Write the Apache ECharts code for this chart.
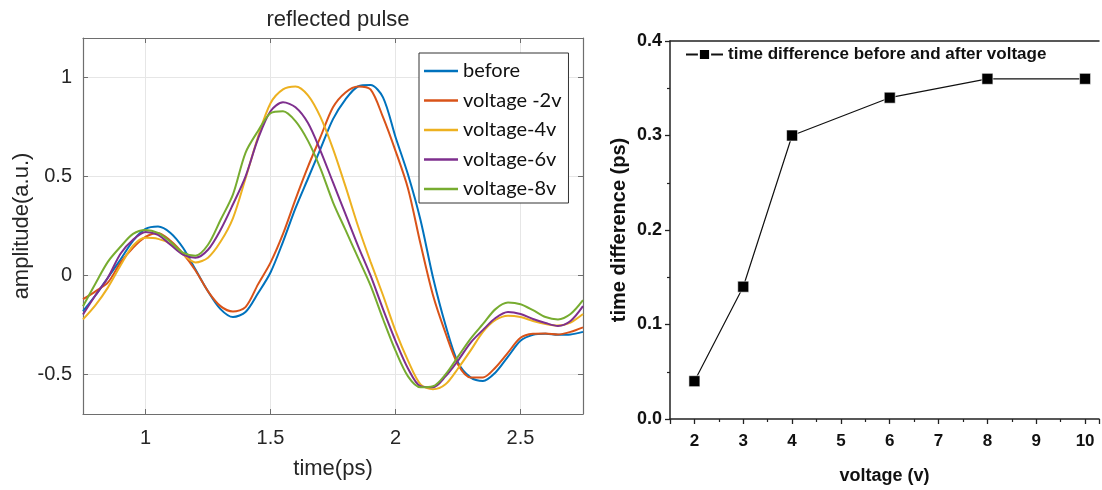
<!DOCTYPE html>
<html><head><meta charset="utf-8">
<script src="https://cdn.jsdelivr.net/npm/echarts@6/dist/echarts.min.js"></script>
<style>html,body{margin:0;padding:0;background:#fff}#c{width:1102px;height:490px}</style>
</head><body><div id="c"></div>
<script>
// ---- left panel: reflected pulse ----
const time = [0.75,0.80,0.85,0.90,0.95,1.00,1.05,1.10,1.15,1.20,1.25,1.30,1.35,1.40,1.45,1.50,1.55,1.60,1.65,1.70,1.75,1.80,1.85,1.90,1.95,2.00,2.05,2.10,2.15,2.20,2.25,2.30,2.35,2.40,2.45,2.50,2.55,2.60,2.65,2.70,2.75];
const before = [-0.18,-0.10,-0.01,0.08,0.175,0.235,0.247,0.215,0.14,0.03,-0.08,-0.17,-0.21,-0.185,-0.09,0.015,0.17,0.34,0.49,0.64,0.79,0.89,0.955,0.962,0.90,0.70,0.51,0.28,-0.01,-0.25,-0.44,-0.515,-0.533,-0.49,-0.41,-0.33,-0.30,-0.295,-0.30,-0.298,-0.285];
const volt2 = [-0.12,-0.08,-0.035,0.065,0.14,0.195,0.215,0.175,0.11,0.025,-0.08,-0.155,-0.182,-0.16,-0.045,0.065,0.21,0.385,0.55,0.70,0.85,0.925,0.955,0.94,0.80,0.63,0.44,0.16,-0.10,-0.29,-0.45,-0.515,-0.515,-0.465,-0.39,-0.315,-0.295,-0.293,-0.298,-0.285,-0.262];
const volt4 = [-0.222,-0.15,-0.06,0.05,0.15,0.19,0.185,0.16,0.106,0.066,0.09,0.17,0.29,0.49,0.70,0.87,0.94,0.955,0.91,0.80,0.64,0.45,0.25,0.07,-0.10,-0.28,-0.43,-0.55,-0.575,-0.55,-0.47,-0.38,-0.285,-0.225,-0.203,-0.21,-0.23,-0.245,-0.253,-0.238,-0.195];
const volt6 = [-0.197,-0.10,-0.01,0.11,0.18,0.22,0.205,0.155,0.105,0.09,0.13,0.23,0.36,0.50,0.69,0.83,0.875,0.85,0.77,0.63,0.47,0.31,0.15,0.0,-0.17,-0.33,-0.47,-0.56,-0.565,-0.51,-0.43,-0.34,-0.275,-0.215,-0.185,-0.195,-0.22,-0.24,-0.255,-0.23,-0.155];
const volt8 = [-0.155,-0.04,0.07,0.145,0.21,0.23,0.215,0.17,0.115,0.10,0.155,0.28,0.41,0.62,0.73,0.82,0.83,0.78,0.68,0.54,0.37,0.23,0.09,-0.05,-0.22,-0.38,-0.51,-0.565,-0.56,-0.50,-0.41,-0.32,-0.245,-0.17,-0.137,-0.145,-0.175,-0.21,-0.222,-0.195,-0.125];
const pulseNames = ['before','voltage -2v','voltage-4v','voltage-6v','voltage-8v'];
const pulseColors = ['#0072BD','#D95319','#EDB120','#7E2F8E','#77AC30'];

// ---- right panel: time difference ----
const voltages = [2,3,4,6,8,10];
const timeDiff = [0.04,0.14,0.30,0.34,0.36,0.36];
const diffName = 'time difference before and after voltage';

const pulseSeries = [before, volt2, volt4, volt6, volt8];
const ML = 'Liberation Sans, Arial, sans-serif';
const axGray = '#6e6e6e';
const txt = '#262626';

function halfLabel(v){
  return Math.abs(v*2 - Math.round(v*2)) < 1e-9 ? String(+v.toFixed(2)) : '';
}
function intLabel(v){
  return Math.abs(v - Math.round(v)) < 1e-9 ? String(Math.round(v)) : '';
}

const leftAxisCommon = {
  axisLine:{show:true, onZero:false, lineStyle:{color:axGray, width:1.2}},
  axisTick:{show:true, inside:true, length:5, lineStyle:{color:axGray, width:1}},
};

const chart = echarts.init(document.getElementById('c'));
chart.setOption({
  animation:false,
  backgroundColor:'#ffffff',
  title:{text:'reflected pulse', left:333, top:4, textAlign:'center',
    textStyle:{fontFamily:ML, fontSize:22, fontWeight:'normal', color:txt}},
  grid:[
    {left:83, top:38, width:500, height:376},
    {left:670, top:41, width:432, height:378}
  ],
  legend:[
    {data:pulseNames, orient:'vertical', left:419, top:53, icon:'rect',
     itemWidth:34, itemHeight:2.5, itemGap:7.5, padding:[7,7,3,5],
     backgroundColor:'#fff', borderColor:'#333', borderWidth:1, borderRadius:0,
     textStyle:{fontFamily:'Lato, sans-serif', fontSize:20, lineHeight:22, color:'#111'}},
    {data:[diffName], left:685, top:46, itemWidth:37, itemHeight:14, itemGap:0, padding:0,
     textStyle:{fontFamily:ML, fontSize:17, fontWeight:'bold', color:'#111'}}
  ],
  xAxis:[
    Object.assign({gridIndex:0, type:'value', min:0.75, max:2.75, splitNumber:4,
      name:'time(ps)', nameLocation:'middle', nameGap:44,
      nameTextStyle:{fontFamily:ML, fontSize:22, color:txt},
      axisLabel:{formatter:halfLabel, fontFamily:ML, fontSize:20, color:txt, margin:14},
      splitLine:{show:true, lineStyle:{color:'#e6e6e6', width:1}}}, leftAxisCommon),
    Object.assign({gridIndex:0, type:'value', min:0.75, max:2.75, splitNumber:4, position:'top',
      axisLabel:{show:false}, splitLine:{show:false}}, leftAxisCommon),
    {gridIndex:1, type:'value', min:1.5, max:10.285, splitNumber:9,
      name:'voltage (v)', nameLocation:'middle', nameGap:48,
      nameTextStyle:{fontFamily:ML, fontSize:18, fontWeight:'bold', color:'#111'},
      axisLine:{show:true, onZero:false, lineStyle:{color:'#222', width:1.5}},
      axisTick:{show:true, inside:false, length:5, lineStyle:{color:'#222', width:1.3}},
      minorTick:{show:true, splitNumber:2, length:3, lineStyle:{color:'#222', width:1.2}},
      axisLabel:{formatter:intLabel, fontFamily:ML, fontSize:17, fontWeight:'bold', color:'#111', margin:14},
      splitLine:{show:false}},
    {gridIndex:1, type:'value', min:1.5, max:10.285, position:'top',
      axisLine:{show:true, onZero:false, lineStyle:{color:'#222', width:1.5}},
      axisTick:{show:false}, axisLabel:{show:false}, splitLine:{show:false}}
  ],
  yAxis:[
    Object.assign({gridIndex:0, type:'value', min:-0.7, max:1.2, splitNumber:4,
      name:'amplitude(a.u.)', nameLocation:'middle', nameGap:50,
      nameTextStyle:{fontFamily:ML, fontSize:22, color:txt},
      axisLabel:{formatter:halfLabel, fontFamily:ML, fontSize:20, color:txt, margin:11},
      splitLine:{show:true, lineStyle:{color:'#e6e6e6', width:1}}}, leftAxisCommon),
    Object.assign({gridIndex:0, type:'value', min:-0.7, max:1.2, splitNumber:4, position:'right',
      axisLabel:{show:false}, splitLine:{show:false}}, leftAxisCommon),
    {gridIndex:1, type:'value', min:0, max:0.4, interval:0.1,
      name:'time difference (ps)', nameLocation:'middle', nameGap:41,
      nameTextStyle:{fontFamily:ML, fontSize:20, fontWeight:'bold', color:'#111'},
      axisLine:{show:true, onZero:false, lineStyle:{color:'#222', width:1.5}},
      axisTick:{show:true, inside:false, length:5, lineStyle:{color:'#222', width:1.3}},
      minorTick:{show:true, splitNumber:2, length:3, lineStyle:{color:'#222', width:1.2}},
      axisLabel:{formatter:v=>v.toFixed(1), fontFamily:ML, fontSize:18, fontWeight:'bold', color:'#111', margin:8},
      splitLine:{show:false}}
  ],
  series: pulseSeries.map((arr, i) => ({
    name:pulseNames[i], type:'line', xAxisIndex:0, yAxisIndex:0,
    data: time.map((t, k) => [t, arr[k]]),
    smooth:0.3, symbol:'none', color:pulseColors[i],
    lineStyle:{width:2, color:pulseColors[i]}, z:2
  })).concat([{
    name:diffName, type:'line', xAxisIndex:2, yAxisIndex:2,
    data: voltages.map((v, k) => [v, timeDiff[k]]),
    symbol:'rect', symbolSize:11, color:'#000',
    lineStyle:{width:1.2, color:'#111'},
    itemStyle:{color:'#000', borderColor:'#fff', borderWidth:0.6}
  }])
});
</script>
</body></html>
